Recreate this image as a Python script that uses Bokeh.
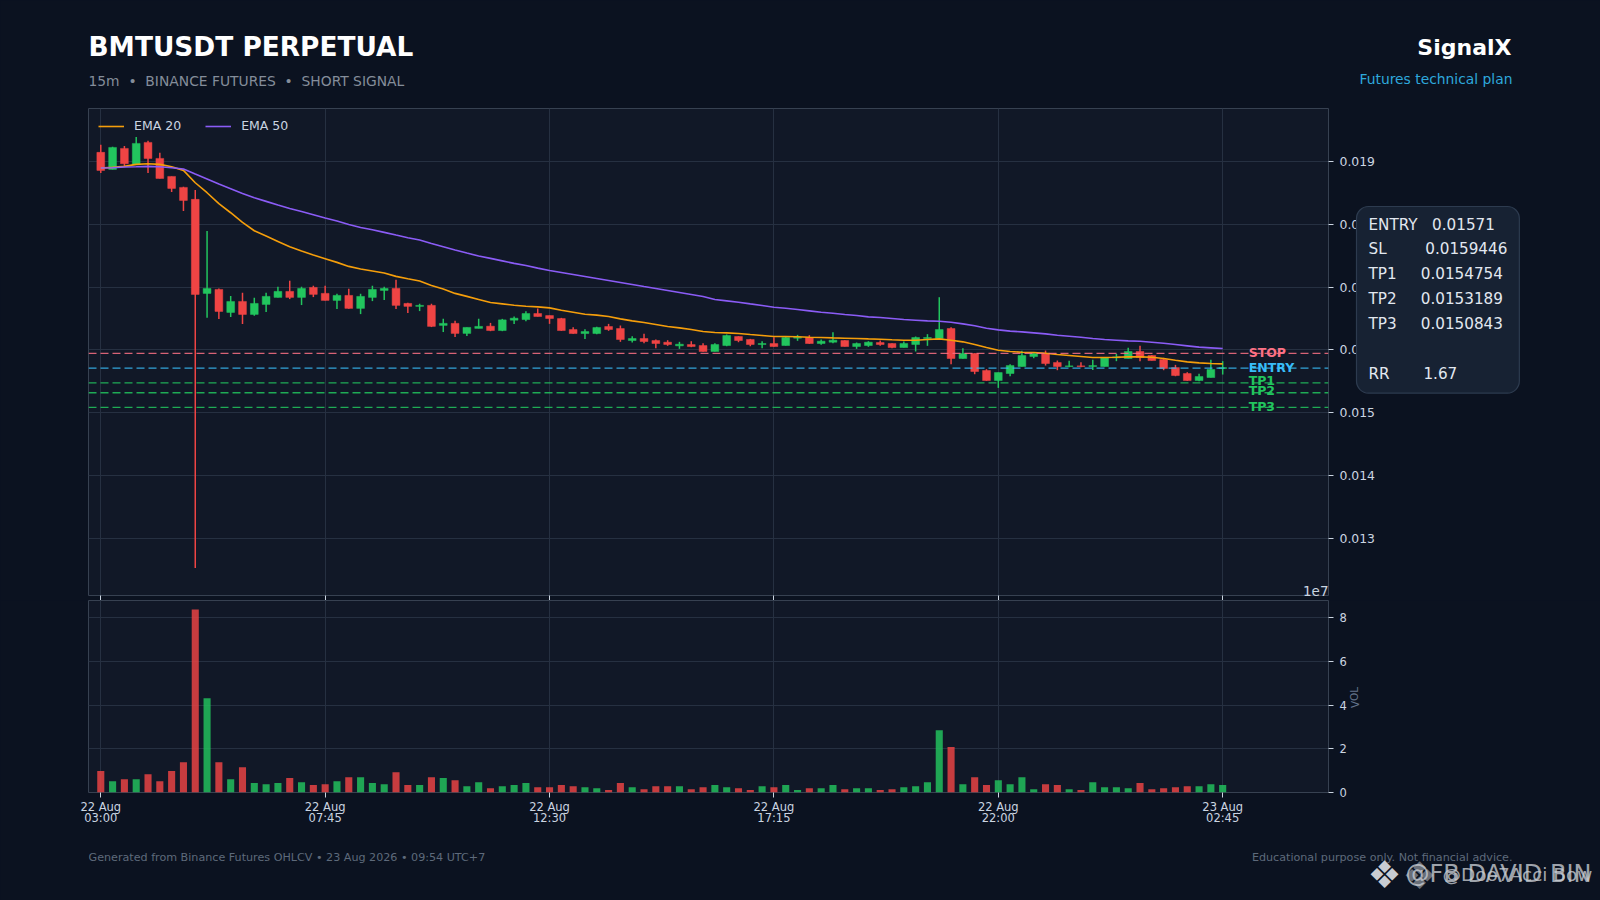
from bokeh.embed import file_html
from bokeh.resources import INLINE
from bokeh.io import curdoc
from bokeh.layouts import column
from bokeh.models import (ColumnDataSource, CustomJS, FixedTicker, Label, Legend, LegendItem,
                          Range1d, Span)
from bokeh.plotting import figure

opens = [.019149,.018878,.019212,.018952,.019308,.019053,.018766,.018591,.018400,.016902,
 .016965,.016599,.016774,.016567,.016726,.016838,.016934,.016838,.016997,.016902,
 .016790,.016870,.016663,.016838,.016949,.016981,.016742,.016695,.016711,.016392,
 .016424,.016264,.016344,.016379,.016310,.016475,.016485,.016581,.016549,.016501,
 .016326,.016262,.016262,.016374,.016342,.016151,.016183,.016151,.016124,.016066,
 .016087,.016071,.015976,.016071,.016215,.016167,.016087,.016103,.016071,.016188,
 .016199,.016103,.016124,.016151,.016055,.016071,.016119,.016103,.016039,.016087,
 .016183,.016183,.016342,.015864,.015944,.015673,.015513,.015625,.015736,.015896,
 .015944,.015800,.015736,.015747,.015736,.015736,.015875,.015864,.015976,.015912,
 .015848,.015720,.015625,.015513,.015561,.015705]
closes = [.018862,.019228,.018968,.019292,.019053,.018734,.018575,.018384,.016886,.016981,
 .016615,.016774,.016567,.016742,.016854,.016934,.016838,.016981,.016886,.016790,
 .016870,.016663,.016854,.016965,.016981,.016711,.016695,.016711,.016376,.016424,
 .016264,.016360,.016376,.016310,.016480,.016507,.016581,.016533,.016501,.016310,
 .016262,.016294,.016358,.016326,.016167,.016183,.016135,.016103,.016087,.016092,
 .016055,.015976,.016087,.016231,.016151,.016087,.016103,.016055,.016199,.016204,
 .016103,.016140,.016156,.016055,.016103,.016124,.016087,.016039,.016103,.016199,
 .016199,.016326,.015864,.015944,.015657,.015513,.015641,.015752,.015912,.015944,
 .015784,.015736,.015747,.015736,.015752,.015875,.015891,.015976,.015880,.015832,
 .015705,.015593,.015513,.015577,.015689,.015720]
highs = [.019271,.019239,.019250,.019393,.019335,.019143,.018766,.018602,.018548,.017895,
 .016981,.016859,.016912,.016833,.016912,.017008,.017104,.017008,.017024,.017024,
 .016896,.016976,.016896,.017024,.017008,.017120,.016753,.016737,.016737,.016498,
 .016466,.016360,.016498,.016432,.016496,.016533,.016618,.016661,.016549,.016512,
 .016363,.016331,.016369,.016416,.016390,.016220,.016257,.016167,.016156,.016130,
 .016140,.016108,.016108,.016247,.016220,.016177,.016140,.016204,.016215,.016241,
 .016236,.016167,.016284,.016156,.016119,.016140,.016151,.016108,.016135,.016215,
 .016252,.016841,.016363,.016029,.015949,.015694,.015641,.015774,.015986,.015965,
 .015991,.015832,.015827,.015806,.015843,.015885,.015938,.016034,.016066,.015922,
 .015875,.015763,.015646,.015620,.015843,.015822]
lows = [.018819,.018878,.018931,.018952,.018819,.018734,.018517,.018214,.012528,.016514,
 .016493,.016525,.016413,.016546,.016604,.016838,.016811,.016716,.016843,.016790,
 .016652,.016657,.016572,.016779,.016796,.016652,.016588,.016620,.016365,.016286,
 .016206,.016222,.016344,.016300,.016300,.016416,.016459,.016533,.016416,.016305,
 .016257,.016177,.016252,.016305,.016130,.016119,.016108,.016029,.016066,.016018,
 .016045,.015970,.015976,.016060,.016124,.016060,.016029,.016050,.016071,.016146,
 .016098,.016082,.016108,.016055,.016018,.016050,.016066,.016029,.016039,.015976,
 .016066,.016177,.015774,.015859,.015614,.015508,.015396,.015582,.015736,.015869,
 .015752,.015678,.015726,.015726,.015683,.015736,.015822,.015864,.015822,.015832,
 .015678,.015582,.015508,.015503,.015561,.015609]
volumes = [.98,.52,.61,.61,.84,.52,.98,1.39,8.38,4.31,1.39,.61,1.16,.43,.38,.43,.66,.47,.34,.38,
 .52,.70,.70,.43,.38,.93,.34,.34,.70,.66,.56,.29,.47,.20,.29,.34,.43,.24,.24,.34,
 .29,.24,.20,.11,.43,.24,.15,.29,.29,.29,.15,.24,.34,.24,.20,.11,.29,.24,.34,.11,
 .20,.20,.34,.15,.20,.20,.11,.15,.24,.29,.47,2.85,2.08,.38,.70,.34,.56,.38,.70,.15,
 .38,.34,.15,.11,.47,.24,.24,.20,.43,.15,.20,.24,.29,.29,.38,.34]
ema20 = [.018899,.018910,.018926,.018958,.018968,.018958,.018920,.018862,.018665,.018506,
 .018331,.018187,.018033,.017900,.017815,.017730,.017645,.017576,.017513,.017454,
 .017396,.017332,.017290,.017258,.017226,.017173,.017135,.017098,.017029,.016971,
 .016902,.016854,.016806,.016756,.016735,.016714,.016698,.016687,.016671,.016634,
 .016602,.016570,.016555,.016533,.016496,.016464,.016438,.016406,.016374,.016353,
 .016326,.016294,.016278,.016273,.016262,.016246,.016231,.016215,.016215,.016210,
 .016204,.016199,.016193,.016188,.016183,.016177,.016172,.016162,.016156,.016156,
 .016167,.016177,.016156,.016130,.016087,.016039,.015997,.015976,.015965,.015960,
 .015949,.015928,.015912,.015896,.015880,.015880,.015885,.015891,.015891,.015885,
 .015864,.015837,.015811,.015795,.015784,.015779]
ema50 = [.018899,.018904,.018915,.018920,.018926,.018920,.018904,.018883,.018803,.018724,
 .018644,.018570,.018495,.018426,.018368,.018309,.018256,.018208,.018155,.018102,
 .018054,.018001,.017953,.017916,.017874,.017831,.017789,.017752,.017698,.017645,
 .017592,.017544,.017497,.017460,.017420,.017380,.017345,.017305,.017266,.017235,
 .017203,.017171,.017139,.017107,.017075,.017043,.017011,.016980,.016948,.016916,
 .016884,.016852,.016804,.016783,.016762,.016735,.016709,.016682,.016666,.016645,
 .016624,.016602,.016586,.016565,.016549,.016528,.016517,.016501,.016485,.016475,
 .016464,.016459,.016443,.016416,.016385,.016347,.016321,.016300,.016289,.016273,
 .016257,.016236,.016220,.016204,.016183,.016167,.016156,.016145,.016140,.016124,
 .016108,.016087,.016066,.016045,.016034,.016023]
assert all(len(a) == 96 for a in (opens, closes, highs, lows, volumes, ema20, ema50))

x_index = list(range(96))
tick_positions = [0, 19, 38, 57, 76, 95]
tick_labels = ["22 Aug\n03:00", "22 Aug\n07:45", "22 Aug\n12:30", "22 Aug\n17:15", "22 Aug\n22:00", "23 Aug\n02:45"]
price_ticks = [0.013, 0.014, 0.015, 0.016, 0.017, 0.018, 0.019]
volume_ticks = [0, 2, 4, 6, 8]
level_names = ["STOP", "ENTRY", "TP1", "TP2", "TP3"]
level_values = [0.0159446, 0.01571, 0.0154754, 0.0153189, 0.0150843]
level_colors = ["#fb7185", "#38bdf8", "#22c55e", "#22c55e", "#22c55e"]
panel_rows = ["ENTRY   0.01571", "SL        0.0159446", "TP1     0.0154754", "TP2     0.0153189",
              "TP3     0.0150843", "", "RR       1.67"]
panel_text = "\n".join(r.replace(" ", "\u00a0") for r in panel_rows)
subtitle = "15m  \u2022  BINANCE FUTURES  \u2022  SHORT SIGNAL".replace(" ", "\u00a0")

BG = "#0b1220"
PANEL = "#111827"
GRID = "#263041"
EDGE = "#374151"
TICK = "#cbd5e1"
UP = "#22c55e"
DOWN = "#ef4444"
FONT = "DejaVu Sans"

LEFT, RIGHT = 88, 1328
TOP1, BOTTOM1 = 108, 595
TOP2, BOTTOM2 = 600, 792

colors = [UP if c >= o else DOWN for o, c in zip(opens, closes)]
src = ColumnDataSource(dict(x=x_index, o=opens, c=closes, h=highs, l=lows,
                            top=[max(a, b) for a, b in zip(opens, closes)],
                            bottom=[min(a, b) for a, b in zip(opens, closes)],
                            v=volumes, color=colors))
xr = Range1d(-1.04, 103.96)


def style(p):
    p.background_fill_color = PANEL
    p.border_fill_color = BG
    p.outline_line_color = EDGE
    p.outline_line_width = 1
    p.xgrid.grid_line_color = GRID
    p.ygrid.grid_line_color = GRID
    p.xgrid.ticker = FixedTicker(ticks=tick_positions)
    for ax in (p.xaxis[0], p.yaxis[0]):
        ax.axis_line_color = None
        ax.major_tick_line_color = TICK
        ax.major_tick_in = 0
        ax.major_tick_out = 5
        ax.minor_tick_line_color = None
        ax.major_label_text_color = TICK
        ax.major_label_text_font = FONT
    p.xaxis[0].major_label_text_font_size = "11.5px"
    p.xaxis[0].ticker = FixedTicker(ticks=tick_positions)
    p.yaxis[0].major_label_standoff = 6


p1 = figure(frame_width=RIGHT - LEFT, frame_height=BOTTOM1 - TOP1, x_range=xr,
            y_range=Range1d(0.012088, 0.019848), y_axis_location="right",
            output_backend="svg", toolbar_location=None,
            min_border_left=LEFT, min_border_right=1600 - RIGHT,
            min_border_top=TOP1, min_border_bottom=5)
style(p1)
p1.yaxis[0].major_label_text_font_size = "12.4px"
p1.yaxis[0].ticker = FixedTicker(ticks=price_ticks)
p1.yaxis[0].major_label_overrides = {t: f"{t:.3f}" for t in price_ticks}
p1.ygrid.ticker = FixedTicker(ticks=price_ticks)
p1.xaxis[0].major_label_text_font_size = "0px"
p1.xaxis[0].major_label_standoff = 0
p1.xaxis[0].major_label_text_color = None

p1.segment(x0="x", x1="x", y0="l", y1="h", color="color", line_width=1.5, source=src)
p1.vbar(x="x", width=0.66, top="top", bottom="bottom", fill_color="color", line_color="color",
        line_width=0.5, source=src)
l20 = p1.line(x_index, ema20, line_color="#f59e0b", line_width=1.6)
l50 = p1.line(x_index, ema50, line_color="#8b5cf6", line_width=1.6)

for val, col in zip(level_values, level_colors):
    p1.add_layout(Span(location=val, dimension="width", line_color=col, line_dash="8 4",
                       line_width=1.3, line_alpha=0.85))
p1.text(x=[97.2] * 5, y=level_values, text=level_names, text_color=level_colors,
        text_font_size="12.5px", text_font_style="bold", text_baseline="middle", text_align="left",
        y_offset=[-1, -1, -2, -2, -1], text_font={"value": FONT})

legend = Legend(items=[LegendItem(label="EMA 20", renderers=[l20]), LegendItem(label="EMA 50", renderers=[l50])],
                orientation="horizontal", location="top_left", margin=10, spacing=24,
                glyph_width=26, glyph_height=14, label_standoff=10, background_fill_alpha=0,
                border_line_color=None, label_text_color=TICK, label_text_font=FONT,
                label_text_font_size="12.5px")
p1.add_layout(legend)

p2 = figure(frame_width=RIGHT - LEFT, frame_height=BOTTOM2 - TOP2, x_range=xr,
            y_range=Range1d(0, 8.79), y_axis_location="right",
            output_backend="svg", toolbar_location=None,
            min_border_left=LEFT, min_border_right=1600 - RIGHT,
            min_border_top=0, min_border_bottom=900 - BOTTOM2)
style(p2)
p2.yaxis[0].major_label_text_font_size = "11.5px"
p2.yaxis[0].ticker = FixedTicker(ticks=volume_ticks)
p2.ygrid.ticker = FixedTicker(ticks=volume_ticks)
p2.xaxis[0].major_label_overrides = dict(zip(tick_positions, tick_labels))
p2.xaxis[0].major_label_standoff = 2
p2.xaxis[0].major_label_text_line_height = 0.85
p2.vbar(x="x", width=0.6, top="v", bottom=0, fill_color="color", line_color=None, fill_alpha=0.82, source=src)

# Full-page transparent figure stacked over both plots: carries the page texts and the summary box.
# The column aligns frames on its left border, so this frame starts at x=88 as the plots' do.
overlay = figure(frame_width=1600 - LEFT, frame_height=900, x_range=Range1d(LEFT, 1600), y_range=Range1d(900, 0),
                 x_axis_type=None, y_axis_type=None, output_backend="svg", toolbar_location=None,
                 min_border=0, min_border_left=LEFT, margin=(-900, 0, 0, 0), outline_line_color=None,
                 background_fill_alpha=0, border_fill_alpha=0)
overlay.grid.visible = False


def label(X, Y, text, **kw):
    overlay.add_layout(Label(x=X, y=Y, text=text, text_font=FONT,
                             text_baseline=kw.pop("text_baseline", "alphabetic"), **kw))


label(88, 45.5, "BMTUSDT PERPETUAL", text_color="#ffffff", text_font_size="26.4px", text_font_style="bold")
label(88, 80, subtitle, text_color="#848d9a", text_font_size="13.85px")
label(1511, 47.1, "SignalX", text_color="#ffffff", text_font_size="22px", text_font_style="bold", text_align="right")
label(1512, 78, "Futures technical plan", text_color="#2ea8dc", text_font_size="13.86px", text_align="right")
label(1328, 590, "1e7", text_color=TICK, text_font_size="13.5px", text_align="right")
label(1354, 697, "VOL", text_color="#64748b", text_font_size="10.5px", angle=1.5708,
      text_align="center", text_baseline="middle")
label(88, 856.5, "Generated from Binance Futures OHLCV \u2022 23 Aug 2026 \u2022 09:54 UTC+7",
      text_color="#5e6a7b", text_font_size="11.15px")
label(1512, 856.5, "Educational purpose only. Not financial advice.",
      text_color="#5e6a7b", text_font_size="11.15px", text_align="right")
label(1384, 874, "\u2756", text_color="#c8ccd2", text_font_size="38px", text_align="center")
label(1405, 873, "@FB DAVID BIN", text_color="#c8ccd2", text_font_size="24px", text_alpha=0.8)
label(1419, 875, "\u2756", text_color="#c8ccd2", text_font_size="38px", text_alpha=0.5, text_align="center")
label(1442, 874, "@Doo7Acci Bow", text_color="#c8ccd2", text_font_size="18.5px", text_alpha=0.8)
overlay.add_layout(Label(x=1356, y=206, text=panel_text,
                         text_font=FONT, text_font_size="15.2px", text_color="#e2e8f0", text_line_height=1.385,
                         text_align="left", text_baseline="top", padding=(12, 12, 9, 10), border_radius=12,
                         background_fill_color="#172233", border_line_color="#2d3b4f", border_line_width=1.2))

layout = column(p1, p2, overlay, spacing=0)
doc = curdoc()
doc.add_root(layout)
doc.js_on_event("document_ready", CustomJS(code=f"document.documentElement.style.background='{BG}';document.body.style.background='{BG}';"))
open("out.html", "w").write(file_html(layout, INLINE))
